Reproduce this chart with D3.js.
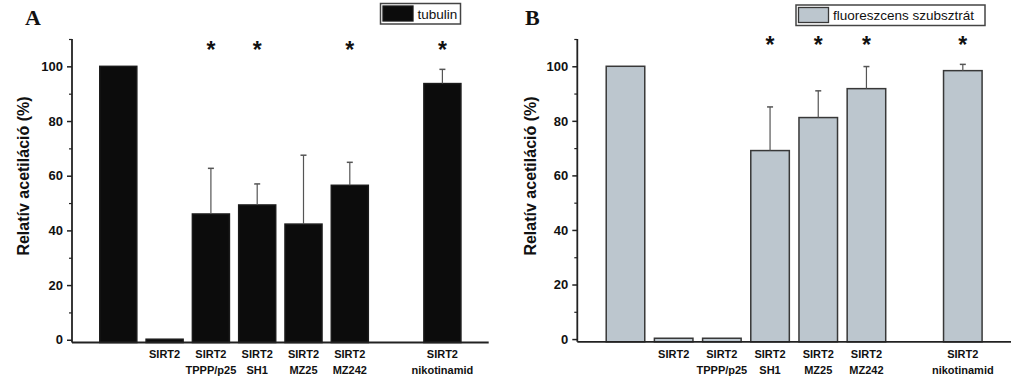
<!DOCTYPE html>
<html><head><meta charset="utf-8">
<script src="https://cdn.jsdelivr.net/npm/d3@7"></script>
<style>
html,body{margin:0;padding:0;background:#fff;}
svg{display:block;font-family:"Liberation Sans",Arial,sans-serif;}
</style></head>
<body>
<svg id="chart" width="1024" height="390"></svg>
<script>
// ---- data ----
const categoryLines = [
  [],
  ["SIRT2"],
  ["SIRT2", "TPPP/p25"],
  ["SIRT2", "SH1"],
  ["SIRT2", "MZ25"],
  ["SIRT2", "MZ242"],
  [],
  ["SIRT2", "nikotinamid"]
];
const tubulinValues = [100, 0.2, 46.0, 49.3, 42.3, 56.5, null, 93.7];
const tubulinErrors = [0, 0, 16.7, 7.7, 25.2, 8.4, null, 5.2];
const tubulinSignif = [false, false, true, true, false, true, false, true];
const substrateValues = [100, 0.3, 0.3, 69.1, 81.2, 91.8, null, 98.4];
const substrateErrors = [0, 0, 0, 16.0, 9.8, 8.1, null, 2.3];
const substrateSignif = [false, false, false, true, true, true, false, true];
const yMajorTicks = [0, 20, 40, 60, 80, 100];
const yMinorTicks = [10, 30, 50, 70, 90, 110];
const yLabel = "Relatív acetiláció (%)";
const legendA = "tubulin";
const legendB = "fluoreszcens szubsztrát";

const svg = d3.select("#chart");

function panel(opt) {
  const g = svg.append("g");
  const n = categoryLines.length;
  const x = d3.scaleBand().domain(d3.range(n)).range([opt.x0, opt.x1])
    .paddingInner(0.2).paddingOuter(0.6);
  const y = d3.scaleLinear().domain([-1, 110]).range([opt.yBottom, 39]);
  const axisColor = "#222";

  // bars
  const idx = d3.range(n).filter(i => opt.values[i] != null);
  g.selectAll("rect.bar").data(idx).join("rect")
    .attr("class", "bar")
    .attr("x", i => x(i))
    .attr("width", x.bandwidth())
    .attr("y", i => y(opt.values[i]))
    .attr("height", i => y(-1) - y(opt.values[i]))
    .attr("fill", opt.fill)
    .attr("stroke", opt.stroke)
    .attr("stroke-width", 1.5);

  // error bars (upper only)
  const errIdx = idx.filter(i => opt.errors[i] > 0);
  const eg = g.selectAll("g.err").data(errIdx).join("g").attr("class", "err");
  eg.append("line")
    .attr("x1", i => x(i) + x.bandwidth() / 2).attr("x2", i => x(i) + x.bandwidth() / 2)
    .attr("y1", i => y(opt.values[i])).attr("y2", i => y(opt.values[i] + opt.errors[i]))
    .attr("stroke", "#555").attr("stroke-width", 1.2);
  eg.append("line")
    .attr("x1", i => x(i) + x.bandwidth() / 2 - 3).attr("x2", i => x(i) + x.bandwidth() / 2 + 3)
    .attr("y1", i => y(opt.values[i] + opt.errors[i])).attr("y2", i => y(opt.values[i] + opt.errors[i]))
    .attr("stroke", "#555").attr("stroke-width", 1.5);

  // significance stars
  g.selectAll("text.star").data(idx.filter(i => opt.signif[i])).join("text")
    .attr("class", "star")
    .attr("x", i => x(i) + x.bandwidth() / 2)
    .attr("y", y(opt.starLevel) + 12)
    .attr("text-anchor", "middle")
    .attr("font-weight", "bold").attr("font-size", 23)
    .attr("fill", "#111")
    .text("*");

  // y axis
  const yAxis = d3.axisLeft(y).tickValues(yMajorTicks).tickSize(5).tickPadding(4);
  const ya = g.append("g").attr("transform", `translate(${opt.x0},0)`).call(yAxis);
  ya.select(".domain").remove();
  ya.selectAll(".tick line").attr("stroke", axisColor).attr("stroke-width", 1.5);
  ya.selectAll(".tick text").attr("font-size", 13).attr("font-weight", "bold")
    .attr("fill", "#111").style("font-family", "'Liberation Sans',Arial,sans-serif");
  const yMinor = d3.axisLeft(y).tickValues(yMinorTicks).tickSize(3).tickFormat("");
  const ym = g.append("g").attr("transform", `translate(${opt.x0},0)`).call(yMinor);
  ym.select(".domain").remove();
  ym.selectAll(".tick line").attr("stroke", axisColor).attr("stroke-width", 1.2);
  g.append("line").attr("x1", opt.x0).attr("x2", opt.x0)
    .attr("y1", y(110)).attr("y2", y(-1))
    .attr("stroke", axisColor).attr("stroke-width", 1.8);

  // x axis
  g.append("line").attr("x1", opt.x0).attr("x2", opt.x1)
    .attr("y1", y(-1)).attr("y2", y(-1))
    .attr("stroke", axisColor).attr("stroke-width", 1.8);
  const xl = g.selectAll("text.xl").data(d3.range(n)).join("text")
    .attr("class", "xl")
    .attr("x", i => x(i) + x.bandwidth() / 2)
    .attr("y", 357.5)
    .attr("text-anchor", "middle")
    .attr("font-size", 11).attr("font-weight", "bold").attr("fill", "#111");
  xl.selectAll("tspan").data(i => categoryLines[i]).join("tspan")
    .attr("x", function () { return d3.select(this.parentNode).attr("x"); })
    .attr("dy", (d, k) => k === 0 ? 0 : 16.6)
    .text(d => d);

  // y label
  g.append("text")
    .attr("transform", `translate(${opt.labelX},176) rotate(-90)`)
    .attr("text-anchor", "middle")
    .attr("font-size", 16).attr("font-weight", "bold").attr("fill", "#111")
    .text(yLabel);

  // panel letter
  g.append("text").attr("x", opt.letterX).attr("y", 25)
    .style("font-family", "'Liberation Serif','Times New Roman',serif")
    .attr("font-size", 22).attr("font-weight", "bold").attr("fill", "#111")
    .text(opt.letter);

  // legend
  const lg = g.append("g");
  lg.append("rect").attr("x", opt.legX).attr("y", opt.legY)
    .attr("width", opt.legW).attr("height", 20.5)
    .attr("fill", "#fff").attr("stroke", "#444").attr("stroke-width", 1.5);
  lg.append("rect").attr("x", opt.legX + 2.5).attr("y", opt.legY + 2.5)
    .attr("width", 30).attr("height", 15)
    .attr("fill", opt.fill).attr("stroke", opt.stroke).attr("stroke-width", 1.3);
  lg.append("text").attr("x", opt.legX + 37).attr("y", opt.legY + 15)
    .attr("font-size", 13.5).attr("fill", "#111").text(opt.legend);
}

panel({
  x0: 72, x1: 488.7, yBottom: 342.5,
  values: tubulinValues, errors: tubulinErrors, signif: tubulinSignif,
  starLevel: 107.5,
  fill: "#0c0c0c", stroke: "#1a1a1a",
  labelX: 29, letter: "A", letterX: 25,
  legX: 380.5, legY: 3.5, legW: 80, legend: legendA
});
panel({
  x0: 577.3, x1: 1011, yBottom: 341.8,
  values: substrateValues, errors: substrateErrors, signif: substrateSignif,
  starLevel: 109.3,
  fill: "#bcc6ce", stroke: "#383838",
  labelX: 536, letter: "B", letterX: 525,
  legX: 796, legY: 5, legW: 189, legend: legendB
});
</script>
</body></html>
